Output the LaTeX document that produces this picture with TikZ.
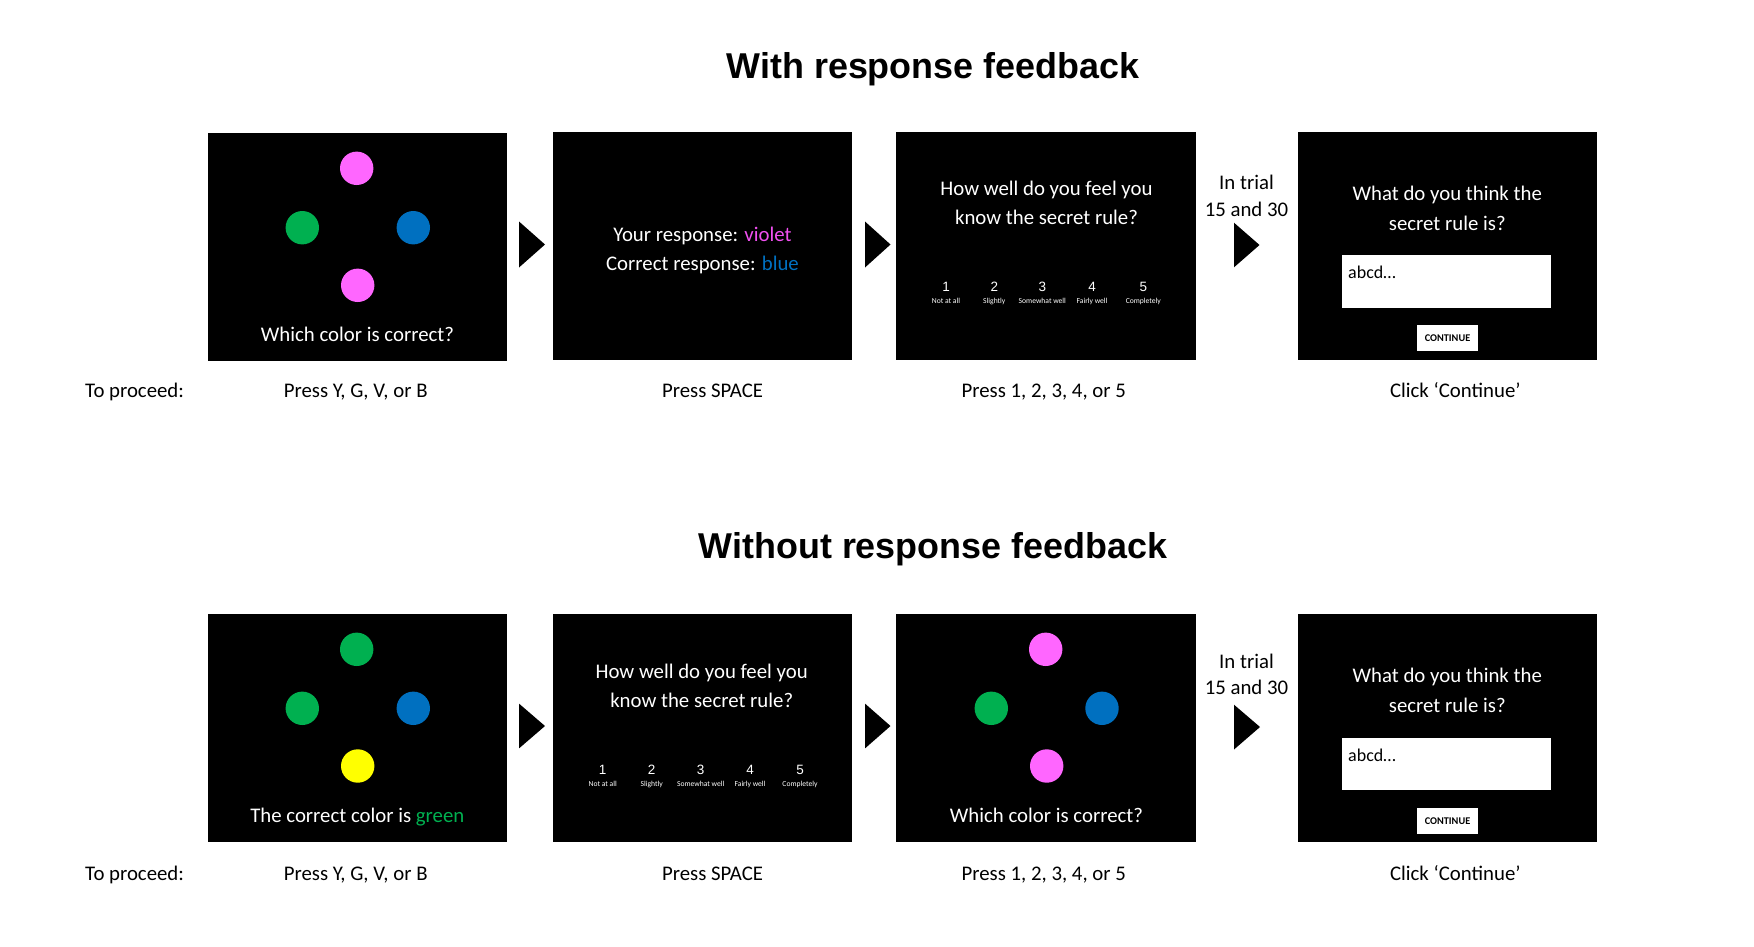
\documentclass[tikz,border=0pt]{standalone}
\usepackage{fontspec}
\setmainfont{Carlito}
\newfontfamily\titlefont{Liberation Sans}
\newfontfamily\numfont{Liberation Sans}
\usetikzlibrary{calc}
\definecolor{cpink}{HTML}{FF66FF}
\definecolor{cviolet}{HTML}{F050F0}
\definecolor{cgreen}{HTML}{00B050}
\definecolor{cblue}{HTML}{0070C0}
\definecolor{cyellow}{HTML}{FFFF00}
\tikzset{
  screen/.style={fill=black, draw=none, inner sep=0pt, minimum width=299pt, minimum height=228pt},
  dot/.style={circle, inner sep=0pt, minimum size=33.4pt, draw=none},
  body/.style={inner sep=0pt, font=\fontsize{20.8}{30}\selectfont, anchor=base},
  wbody/.style={body, text=white},
  title/.style={inner sep=0pt, anchor=base, font=\titlefont\bfseries\fontsize{35.9}{40}\selectfont},
  num/.style={inner sep=0pt, anchor=base, text=white, font=\numfont\fontsize{13.5}{14}\selectfont},
  scl/.style={inner sep=0pt, anchor=base, text=white, font=\fontsize{7.6}{8}\selectfont},
  tbox/.style={fill=white, draw=none, inner sep=0pt, minimum width=209pt, minimum height=52.5pt},
  cbtn/.style={fill=white, draw=none, inner sep=0pt, minimum width=61pt, minimum height=25.5pt, font=\bfseries\fontsize{10.3}{11}\selectfont},
  arr/.style={fill=black, draw=none}
}
\begin{document}
\begin{tikzpicture}[x=1pt, y=-1pt]
\useasboundingbox (0,0) rectangle (1754,946);

% ---------- titles ----------
\node[title] (t1) at (933,78) {With response feedback};
\node[title] (t2) at (933,558) {Without response feedback};

% ================= TOP ROW =================
\node[screen] (a1) at (357.5,247) {};
\node[screen] (a2) at (702.5,245.5) {};
\node[screen, minimum width=300pt] (a3) at (1046,245.5) {};
\node[screen] (a4) at (1447.5,245.5) {};

% screen 1 dots
\node[dot, fill=cpink]  (a1n) at (356.7,168.3) {};
\node[dot, fill=cgreen] (a1w) at (302.3,227.7) {};
\node[dot, fill=cblue]  (a1e) at (413.3,227.7) {};
\node[dot, fill=cpink]  (a1s) at (357.7,285.3) {};
\node[wbody] (a1q) at (357.5,341.7) {Which color is correct?};

% screen 2
\node[wbody] (a2l1) at (702.5,241) {Your response: \textcolor{cviolet}{violet}};
\node[wbody] (a2l2) at (702.5,270.7) {Correct response: \textcolor{cblue}{blue}};

% screen 3
\node[wbody] (a3l1) at (1046.5,195) {How well do you feel you};
\node[wbody] (a3l2) at (1046.5,224.5) {know the secret rule?};
\node[num] (a3n1) at (946,291.7) {1};
\node[num] (a3n2) at (994.3,291.7) {2};
\node[num] (a3n3) at (1042.3,291.7) {3};
\node[num] (a3n4) at (1092,291.7) {4};
\node[num] (a3n5) at (1143.3,291.7) {5};
\node[scl] (a3s1) at (946,303.5) {Not at all};
\node[scl] (a3s2) at (994.3,303.5) {Slightly};
\node[scl] (a3s3) at (1042.3,303.5) {Somewhat well};
\node[scl] (a3s4) at (1092,303.5) {Fairly well};
\node[scl] (a3s5) at (1143.3,303.5) {Completely};

% screen 4
\node[wbody] (a4l1) at (1447.3,200) {What do you think the};
\node[wbody] (a4l2) at (1447.3,230.5) {secret rule is?};
\node[tbox] (a4b) at (1446.5,281.25) {};
\node[body, anchor=base west, font=\fontsize{18}{20}\selectfont] (a4t) at (1348,278) {abcd…};
\node[cbtn] (a4c) at (1447.5,338) {CONTINUE};

% arrows
\fill[arr] (519,221.5) -- (519,267.5) -- (545,244.5) -- cycle;
\fill[arr] (865,221.5) -- (865,267.5) -- (890.5,244.5) -- cycle;
\fill[arr] (1234,222.7) -- (1234,267.3) -- (1259.5,245) -- cycle;
\node[body] (a34a) at (1246.5,189.5) {In trial};
\node[body] (a34b) at (1246.5,216) {15 and 30};

% labels
\node[body, anchor=base west] (p1) at (85,397) {To proceed:};
\node[body] (p1a) at (355.7,397) {Press Y, G, V, or B};
\node[body] (p1b) at (712.5,397) {Press SPACE};
\node[body] (p1c) at (1043.7,397) {Press 1, 2, 3, 4, or 5};
\node[body] (p1d) at (1455.3,397) {Click ‘Continue’};

% ================= BOTTOM ROW =================
\node[screen] (b1) at (357.5,728) {};
\node[screen] (b2) at (702.5,728) {};
\node[screen, minimum width=300pt] (b3) at (1046,728) {};
\node[screen] (b4) at (1447.5,728) {};

% screen 1 dots
\node[dot, fill=cgreen]  (b1n) at (356.7,649.3) {};
\node[dot, fill=cgreen]  (b1w) at (302.3,708.3) {};
\node[dot, fill=cblue]   (b1e) at (413.3,708.3) {};
\node[dot, fill=cyellow] (b1s) at (357.7,766) {};
\node[wbody] (b1q) at (357.3,822) {The correct color is \textcolor{cgreen}{green}};

% screen 2
\node[wbody] (b2l1) at (701.7,678) {How well do you feel you};
\node[wbody] (b2l2) at (701.7,707) {know the secret rule?};
\node[num] (b2n1) at (602.7,774.3) {1};
\node[num] (b2n2) at (651.7,774.3) {2};
\node[num] (b2n3) at (700.7,774.3) {3};
\node[num] (b2n4) at (750,774.3) {4};
\node[num] (b2n5) at (800,774.3) {5};
\node[scl] (b2s1) at (602.7,786) {Not at all};
\node[scl] (b2s2) at (651.7,786) {Slightly};
\node[scl] (b2s3) at (700.7,786) {Somewhat well};
\node[scl] (b2s4) at (750,786) {Fairly well};
\node[scl] (b2s5) at (800,786) {Completely};

% screen 3 dots
\node[dot, fill=cpink]  (b3n) at (1045.7,649.3) {};
\node[dot, fill=cgreen] (b3w) at (991.3,708.3) {};
\node[dot, fill=cblue]  (b3e) at (1102,708.3) {};
\node[dot, fill=cpink]  (b3s) at (1046.7,766) {};
\node[wbody] (b3q) at (1046.5,822) {Which color is correct?};

% screen 4
\node[wbody] (b4l1) at (1447.3,682) {What do you think the};
\node[wbody] (b4l2) at (1447.3,712.5) {secret rule is?};
\node[tbox] (b4b) at (1446.5,764) {};
\node[body, anchor=base west, font=\fontsize{18}{20}\selectfont] (b4t) at (1348,761) {abcd…};
\node[cbtn] (b4c) at (1447.5,821) {CONTINUE};

% arrows
\fill[arr] (519,703.6) -- (519,748.4) -- (545,726) -- cycle;
\fill[arr] (865,703.6) -- (865,748.4) -- (890.5,726) -- cycle;
\fill[arr] (1234,704.7) -- (1234,749.5) -- (1260,727) -- cycle;
\node[body] (b34a) at (1246.5,668) {In trial};
\node[body] (b34b) at (1246.5,694) {15 and 30};

% labels
\node[body, anchor=base west] (q1) at (85,880) {To proceed:};
\node[body] (q1a) at (355.7,880) {Press Y, G, V, or B};
\node[body] (q1b) at (712.5,880) {Press SPACE};
\node[body] (q1c) at (1043.7,880) {Press 1, 2, 3, 4, or 5};
\node[body] (q1d) at (1455.3,880) {Click ‘Continue’};
\end{tikzpicture}
\end{document}
